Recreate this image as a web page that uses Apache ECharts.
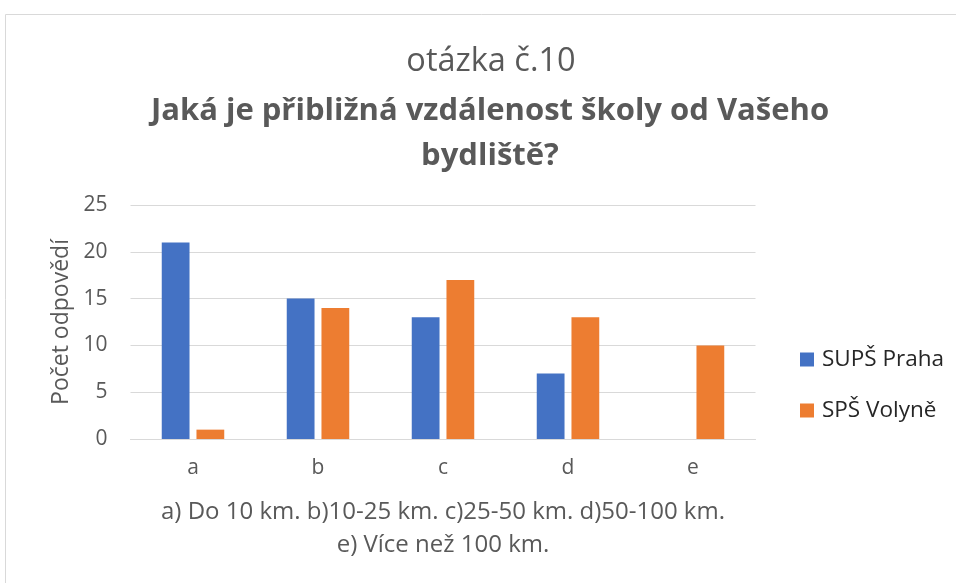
<!DOCTYPE html>
<html>
<head>
<meta charset="utf-8">
<script src="https://cdn.jsdelivr.net/npm/echarts@6/dist/echarts.min.js"></script>
<style>
html,body{margin:0;padding:0;background:#fff;}
#c{width:956px;height:583px;}
</style>
</head>
<body>
<div id="c"></div>
<script>
const categories = ['a', 'b', 'c', 'd', 'e'];
const seriesNames = ['SUPŠ Praha', 'SPŠ Volyně'];
const supsPraha = [21, 15, 13, 7, 0];
const spsVolyne = [1, 14, 17, 13, 10];
const yTicks = [0, 5, 10, 15, 20, 25];
const titleLine1 = 'otázka č.10';
const titleLine2 = 'Jaká je přibližná vzdálenost školy od Vašeho\nbydliště?';
const xAxisName = 'a) Do 10 km. b)10-25 km. c)25-50 km. d)50-100 km.\ne) Více než 100 km.';
const yAxisName = 'Počet odpovědí';

const font = '"Open Sans", "Liberation Sans", sans-serif';
const chart = echarts.init(document.getElementById('c'));
chart.setOption({
  animation: false,
  textStyle: { fontFamily: font },
  graphic: [{
    type: 'rect',
    shape: { x: 5.5, y: 14.5, width: 960, height: 600 },
    style: { fill: 'none', stroke: '#D9D9D9', lineWidth: 1 },
    silent: true
  }],
  title: [
    {
      text: titleLine1,
      left: 491, top: 42, padding: 0, textAlign: 'center',
      textStyle: { fontFamily: font, fontSize: 32.5, fontWeight: 'normal', color: '#595959', lineHeight: 40 }
    },
    {
      text: titleLine2,
      left: 490, top: 89, padding: 0, textAlign: 'center',
      textStyle: { fontFamily: font, fontSize: 31, fontWeight: 'bold', color: '#595959', lineHeight: 45 }
    }
  ],
  legend: {
    orient: 'vertical',
    left: 800, top: 348,
    padding: 0,
    itemWidth: 14, itemHeight: 14, itemGap: 28,
    icon: 'rect',
    textStyle: { fontFamily: font, fontSize: 22.5, color: '#262626', padding: [0, 0, 0, 3] },
    data: seriesNames
  },
  grid: { left: 130.5, right: 200.5, top: 205, bottom: 144 },
  xAxis: {
    type: 'category',
    data: categories,
    axisLine: { show: true, lineStyle: { color: '#D9D9D9' } },
    axisTick: { show: false },
    axisLabel: { fontFamily: font, fontSize: 21, color: '#595959', margin: 19 },
    name: xAxisName,
    nameLocation: 'middle',
    nameGap: 57,
    nameTextStyle: { fontFamily: font, fontSize: 24, color: '#595959', lineHeight: 33 }
  },
  yAxis: {
    type: 'value',
    min: 0, max: 25, interval: 5,
    axisLine: { show: false },
    axisTick: { show: false },
    splitLine: { lineStyle: { color: '#D9D9D9', width: 1 } },
    axisLabel: { fontFamily: font, fontSize: 21, color: '#595959', margin: 23,
      formatter: v => yTicks.includes(v) ? String(v) : '' },
    name: yAxisName,
    nameLocation: 'middle',
    nameGap: 56,
    nameRotate: 90,
    nameTextStyle: { fontFamily: font, fontSize: 23, color: '#595959' }
  },
  series: [
    {
      name: seriesNames[0], type: 'bar', data: supsPraha,
      barGap: '25%', barCategoryGap: '50%',
      itemStyle: { color: '#4472C4' }
    },
    {
      name: seriesNames[1], type: 'bar', data: spsVolyne,
      barGap: '25%', barCategoryGap: '50%',
      itemStyle: { color: '#ED7D31' }
    }
  ]
});
</script>
</body>
</html>
